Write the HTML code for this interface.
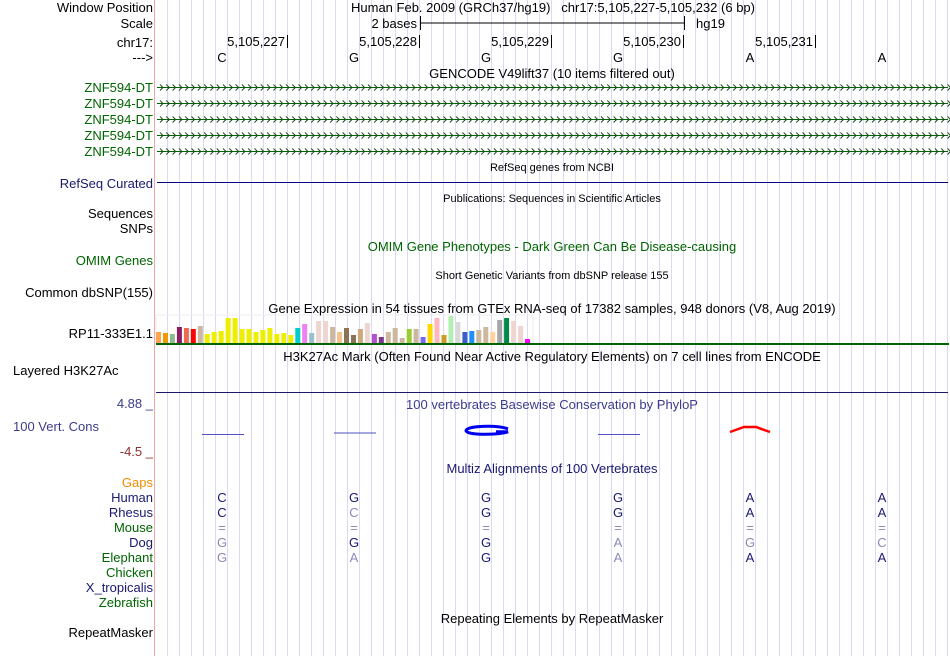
<!DOCTYPE html>
<html><head><meta charset="utf-8">
<style>
html,body{margin:0;padding:0;background:#fff;}
#page{position:relative;width:950px;height:656px;overflow:hidden;font-family:"Liberation Sans",sans-serif;font-size:13px;color:#000;}
.t{position:absolute;white-space:nowrap;line-height:15px;}
.l{right:797px;text-align:right;}
.c{transform:translateX(-50%);}
.sm{font-size:11px;}
svg{position:absolute;left:0;top:0;}
</style></head>
<body>
<div id="page">
<svg id="g" width="950" height="656"></svg>

<div class="t l" style="top:0px">Window Position</div>
<div class="t l" style="top:16px">Scale</div>
<div class="t l" style="top:35px">chr17:</div>
<div class="t l" style="top:50px">---&gt;</div>
<div class="t c" style="left:553px;top:0px">Human Feb. 2009 (GRCh37/hg19)&nbsp;&nbsp;&nbsp;chr17:5,105,227-5,105,232 (6 bp)</div>
<div class="t" style="right:533px;top:16px">2 bases</div>
<div class="t" style="left:696px;top:16px">hg19</div>

<div class="t c" style="left:552px;top:66px">GENCODE V49lift37 (10 items filtered out)</div>
<div class="t l" style="top:80px;color:#006400">ZNF594-DT</div>
<div class="t l" style="top:96px;color:#006400">ZNF594-DT</div>
<div class="t l" style="top:112px;color:#006400">ZNF594-DT</div>
<div class="t l" style="top:128px;color:#006400">ZNF594-DT</div>
<div class="t l" style="top:144px;color:#006400">ZNF594-DT</div>

<div class="t c sm" style="left:552px;top:161px">RefSeq genes from NCBI</div>
<div class="t l" style="top:176px;color:#191970">RefSeq Curated</div>
<div class="t c sm" style="left:552px;top:192px">Publications: Sequences in Scientific Articles</div>
<div class="t l" style="top:206px">Sequences</div>
<div class="t l" style="top:221px">SNPs</div>
<div class="t c" style="left:552px;top:239px;color:#006400">OMIM Gene Phenotypes - Dark Green Can Be Disease-causing</div>
<div class="t l" style="top:253px;color:#006400">OMIM Genes</div>
<div class="t c sm" style="left:552px;top:269px">Short Genetic Variants from dbSNP release 155</div>
<div class="t l" style="top:285px">Common dbSNP(155)</div>
<div class="t c" style="left:552px;top:301px">Gene Expression in 54 tissues from GTEx RNA-seq of 17382 samples, 948 donors (V8, Aug 2019)</div>
<div class="t l" style="top:326px">RP11-333E1.1</div>
<div class="t c" style="left:552px;top:349px">H3K27Ac Mark (Often Found Near Active Regulatory Elements) on 7 cell lines from ENCODE</div>
<div class="t" style="left:13px;top:363px">Layered H3K27Ac</div>
<div class="t l" style="top:396px;color:#3c3c8c">4.88 _</div>
<div class="t c" style="left:552px;top:397px;color:#3c3c8c">100 vertebrates Basewise Conservation by PhyloP</div>
<div class="t" style="left:13px;top:419px;color:#3c3c8c">100 Vert. Cons</div>
<div class="t l" style="top:444px;color:#8b2f2f">-4.5 _</div>
<div class="t c" style="left:552px;top:461px;color:#191970">Multiz Alignments of 100 Vertebrates</div>
<div class="t l" style="top:475px;color:#f08c00">Gaps</div>
<div class="t l" style="top:490px;color:#191970">Human</div>
<div class="t l" style="top:505px;color:#191970">Rhesus</div>
<div class="t l" style="top:520px;color:#006400">Mouse</div>
<div class="t l" style="top:535px;color:#191970">Dog</div>
<div class="t l" style="top:550px;color:#006400">Elephant</div>
<div class="t l" style="top:565px;color:#006400">Chicken</div>
<div class="t l" style="top:580px;color:#191970">X_tropicalis</div>
<div class="t l" style="top:595px;color:#006400">Zebrafish</div>
<div class="t c" style="left:552px;top:611px">Repeating Elements by RepeatMasker</div>
<div class="t l" style="top:625px">RepeatMasker</div>
<div id="txt"></div>
</div>
<script>
const bases = ["C","G","G","G","A","A"];
const positions = ["5,105,227","5,105,228","5,105,229","5,105,230","5,105,231"];
const gtexValues = [11,10,9,16,15,14,17,9,11,12,25,25,14,14,11,13,15,9,10,8,15,19,10,22,22,16,11,15,8,14,20,9,6,11,15,5,14,14,6,19,25,8,27,21,11,12,13,16,11,23,25,22,17,4];
const gtexColors = ["#FFA54F","#EE9A00","#8FBC8F","#8B1C62","#EE6A50","#FF0000","#CDB79E","#EEEE00","#EEEE00","#EEEE00","#EEEE00","#EEEE00","#EEEE00","#EEEE00","#EEEE00","#EEEE00","#EEEE00","#EEEE00","#EEEE00","#EEEE00","#00CDCD","#EE82EE","#9AC0CD","#EED5D2","#EED5D2","#CDB79E","#F4C28A","#8B7355","#8B7355","#CDAA7D","#EED5D2","#B452CD","#7A378B","#CDB79E","#CDB79E","#CDB79E","#9ACD32","#CDB79E","#7B68EE","#FFD700","#FFB6C1","#CD9B1D","#B4EEB4","#D9D9D9","#3A5FCD","#1E90FF","#CDB79E","#CDB79E","#FFD39B","#A6A6A6","#008B45","#EED5D2","#EED5D2","#FF00FF"];
const species = ["Human","Rhesus","Mouse","Dog","Elephant"];
const alignRows = [["C","G","G","G","A","A"],["C","C","G","G","A","A"],["=","=","=","=","=","="],["G","G","G","A","G","C"],["G","A","G","A","A","A"]];
const alignDark = [[1,1,1,1,1,1],[1,0,1,1,1,1],[0,0,0,0,0,0],[0,1,1,0,0,0],[0,0,1,0,1,1]];
const consValues = [-0.1,0.1,0.4,-0.1,0.5,0];

const NS="http://www.w3.org/2000/svg";
const svg=document.getElementById('g'), txt=document.getElementById('txt');
const x0=156, bw=132;
const xBase=i=>x0+bw*i+bw/2;
function mk(tag,attrs){const e=document.createElementNS(NS,tag);for(const k in attrs)e.setAttribute(k,attrs[k]);svg.appendChild(e);return e;}
function tx(s,x,y,color,name,center){const d=document.createElement('div');d.className='t';d.style.left=x+'px';d.style.top=y+'px';d.style.color=color;if(center)d.style.transform='translateX(-50%)';d.textContent=s;


txt.appendChild(d);return d;}
for(let x=167;x<950;x+=12){const l=mk('line',{x1:x+.5,y1:0,x2:x+.5,y2:656,stroke:'#dadaf4','stroke-width':1});

}
const sep=mk('line',{x1:154.5,y1:0,x2:154.5,y2:656,stroke:'#f4a6a6'});


const sb=mk('path',{d:'M420.5 16V30M420 23H684M684.5 16V30',stroke:'#000',fill:'none'});


positions.forEach((p,i)=>{const x=x0+bw*(i+1);
const t=mk('line',{x1:x-0.5,y1:35,x2:x-0.5,y2:48,stroke:'#000'});


const d=tx(p,0,34,'#000','position-label',false);d.style.left='auto';d.style.right=(950-x+3)+'px';});
bases.forEach((b,i)=>tx(b,xBase(i),50,'#000','base-letter',true));
for(let r=0;r<5;r++){const y=87+16*r;
const ln=mk('line',{x1:157,y1:y+.5,x2:948,y2:y+.5,stroke:'#006400'});


let d='';for(let x=160;x<948;x+=6.3)d+=`M${x} ${y-2.5}L${x+3} ${y+.5}L${x} ${y+3.5}`;
const ar=mk('path',{d:d,stroke:'#1f4a1f',fill:'none','stroke-width':1});

}
const rs=mk('line',{x1:157,y1:182.5,x2:948,y2:182.5,stroke:'#000080'});


const gx0=156, gp=376/54, base=343;
const gb=mk('rect',{x:156,y:315,width:377,height:28,fill:'none',stroke:'#eee'});


gtexValues.forEach((v,i)=>{const r=mk('rect',{x:(gx0+i*gp).toFixed(1),y:base-v,width:5,height:v,fill:gtexColors[i]});

});
const gl=mk('rect',{x:156,y:343,width:793,height:2,fill:'#006400'});


const hl=mk('line',{x1:156,y1:392.5,x2:948,y2:392.5,stroke:'#191970'});


const cy=v=>434-v*8;
consValues.forEach((v,i)=>{const x=xBase(i), b=bases[i];
if(v>=0.3&&b==='G'){const p=mk('path',{d:`M${x+22} ${cy(v)-2}C${x+10} ${cy(v)-6} ${x-20} ${cy(v)-5} ${x-20} ${cy(v)} C${x-18} ${cy(v)+5} ${x+15} ${cy(v)+4} ${x+22} ${cy(v)+1}H${x+10}`,stroke:'#0000ee',fill:'none','stroke-width':3});

}
else if(v>=0.3){const p=mk('path',{d:`M${x-20} ${cy(v)+2}L${x-6} ${cy(v)-3}L${x+6} ${cy(v)-3}L${x+20} ${cy(v)+2}`,stroke:'#ff0000',fill:'none','stroke-width':2.5});

}
else if(v!==0){const p=mk('line',{x1:x-20,y1:cy(0)+(v<0?0.5:-1),x2:x+22,y2:cy(0)+(v<0?0.5:-1),stroke:'#5050c0','stroke-width':1});

}});
alignRows.forEach((row,r)=>row.forEach((b,i)=>{tx(b,xBase(i),490+15*r,alignDark[r][i]?'#191970':'#8a8ab8','align-base',true);}));
</script>
</body></html>
